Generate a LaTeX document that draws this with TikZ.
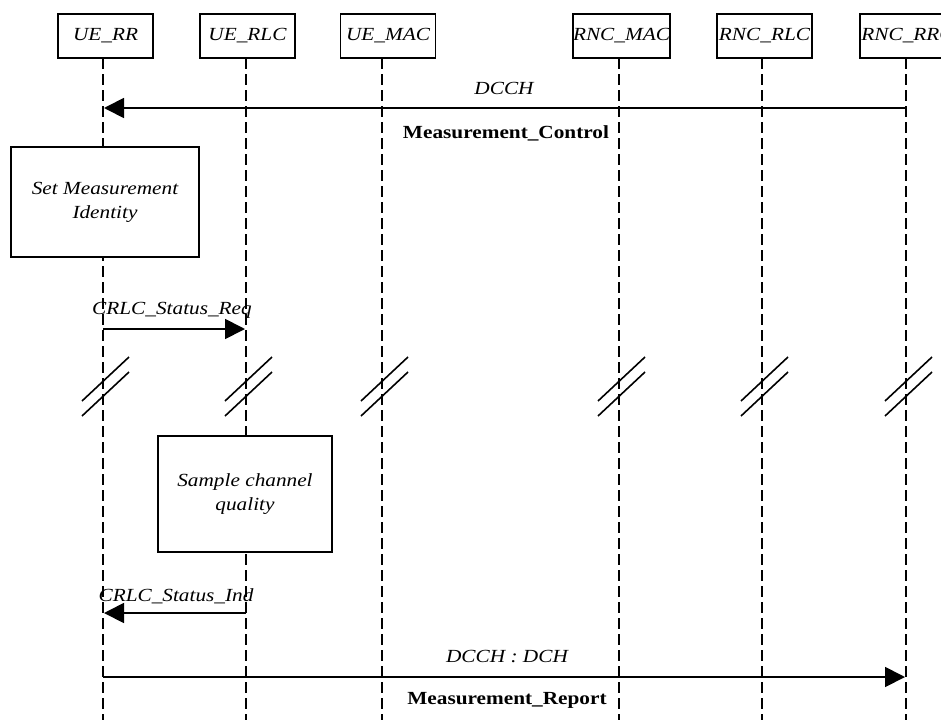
\documentclass[tikz,border=0pt]{standalone}
\usepackage{fontspec}
\setmainfont[FakeStretch=1.15]{Liberation Serif}
\usetikzlibrary{arrows.meta}
\begin{document}
\begin{tikzpicture}[x=1pt,y=-1pt,
  txt/.style={font=\fontsize{18.5}{21}\selectfont\itshape, inner sep=0pt},
  msgname/.style={font=\fontsize{18.5}{21}\selectfont\bfseries, inner sep=0pt},
  head/.style={txt, draw, line width=1.7pt, minimum width=95pt, minimum height=44pt},
  life/.style={line width=1.8pt, dash pattern=on 11pt off 5pt},
  msg/.style={line width=1.8pt, -{Triangle[length=20pt,width=20pt]}},
  act/.style={txt, draw, fill=white, line width=1.7pt, align=center},
  brk/.style={line width=1.6pt}
]
\useasboundingbox (0,0) rectangle (941,720);
\clip (0,0) rectangle (941,720);

% lifelines
\foreach \n/\x in {a/103,b/246,c/382,d/619,e/762,f/906}{
  \coordinate (top\n) at (\x,58);
  \coordinate (bot\n) at (\x,720);
  \draw[life] (top\n) -- (bot\n);
}

% participant headers
\node[head] (ueRR)   at (105.5,36) {UE\_RR};
\node[head] (ueRLC)  at (247.5,36) {UE\_RLC};
\node[head] (ueMAC)  at (388,36)   {UE\_MAC};
\node[head] (rncMAC) at (621.5,36) {RNC\_MAC};
\node[head] (rncRLC) at (764.5,36) {RNC\_RLC};
\node[head] (rncRRC) at (907.5,36) {RNC\_RRC};

% Measurement_Control
\coordinate (m1s) at (906,108);
\coordinate (m1e) at (104,108);
\draw[msg] (m1s) -- (m1e);
\node[txt] (m1lbl) at (504,88) {DCCH};
\node[msgname] (m1name) at (506,133) {Measurement\_Control};

% local actions
\node[act, minimum width=188pt, minimum height=110pt] (setid) at (105,202)
  {Set Measurement\\[3pt]Identity};

\coordinate (m2s) at (103,329);
\coordinate (m2e) at (245,329);
\draw[msg] (m2s) -- (m2e);
\node[txt] (m2lbl) at (172,310) {CRLC\_Status\_Req};

% time breaks
\foreach \x in {103,246,382,619,762,906}{
  \draw[brk] (\x-21,401) -- (\x+26,357);
  \draw[brk] (\x-21,416) -- (\x+26,372);
}

\node[act, minimum width=174pt, minimum height=116pt] (sample) at (245,494)
  {Sample channel\\[3pt]quality};

\coordinate (m3s) at (246,613);
\coordinate (m3e) at (104,613);
\draw[msg] (m3s) -- (m3e);
\node[txt] (m3lbl) at (176,596) {CRLC\_Status\_Ind};

% Measurement_Report
\coordinate (m4s) at (103,677);
\coordinate (m4e) at (905,677);
\draw[msg] (m4s) -- (m4e);
\node[txt] (m4lbl) at (507,656) {DCCH : DCH};
\node[msgname] (m4name) at (507,700) {Measurement\_Report};
\end{tikzpicture}
\end{document}
